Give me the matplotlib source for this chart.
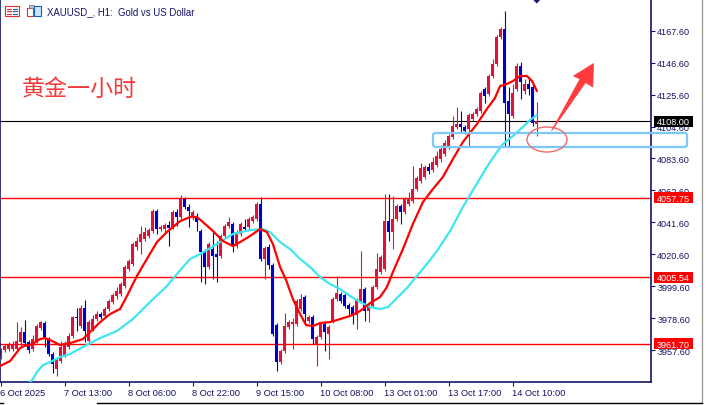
import matplotlib
matplotlib.use('Agg')
import matplotlib.pyplot as plt
from matplotlib.patches import Polygon, Ellipse, FancyBboxPatch, Rectangle
import numpy as np

# hourly XAUUSD candles, 6 Oct 2025 .. 14 Oct 2025
opens = [3953.7, 3957.6, 3958.3, 3958.3, 3958.3, 3962.9, 3969.4, 3962.9, 3958.3, 3963.5,
         3972.1, 3975.4, 3964.8, 3955.0, 3945.1, 3950.4, 3954.3, 3959.6, 3966.8, 3979.3,
         3973.4, 3985.2, 3963.5, 3971.4, 3978.0, 3981.3, 3980.0, 3984.6, 3989.2, 3993.1,
         3994.4, 3999.7, 4010.9, 4014.2, 4025.3, 4028.6, 4030.6, 4032.6, 4035.9, 4049.0,
         4037.2, 4037.2, 4039.8, 4038.5, 4048.4, 4045.1, 4056.9, 4051.7, 4045.1, 4045.7,
         4035.9, 4022.7, 4012.2, 4024.0, 4020.7, 4019.4, 4032.6, 4039.2, 4040.5, 4026.0,
         4033.9, 4038.5, 4038.5, 4042.4, 4043.8, 4053.6, 4017.5, 4025.3, 4013.5, 3974.0,
         3949.7, 3956.9, 3972.7, 3974.7, 3974.7, 3984.6, 3992.5, 3976.7, 3979.3, 3961.5,
         3966.2, 3974.7, 3968.1, 3976.7, 3991.1, 3994.4, 3993.8, 3987.2, 3985.9, 3980.6,
         3989.8, 3997.7, 3983.3, 3986.5, 3999.0, 4008.9, 4010.9, 4042.4, 4035.2, 4043.8,
         4052.3, 4048.4, 4053.6, 4055.6, 4063.5, 4068.8, 4071.4, 4078.0, 4076.0, 4079.3,
         4083.2, 4086.5, 4091.8, 4097.7, 4104.3, 4106.2, 4104.3, 4103.0, 4109.5, 4112.8,
         4114.8, 4129.3, 4126.0, 4137.8, 4145.7, 4163.5, 4168.7, 4121.4, 4111.5, 4129.3,
         4144.4, 4127.9, 4132.6, 4130.6, 4106.2]
highs = [3958.9, 3961.5, 3962.9, 3963.5, 3976.0, 3972.7, 3977.3, 3964.2, 3967.5, 3974.7,
         3976.7, 3976.7, 3966.2, 3956.3, 3953.0, 3963.5, 3963.5, 3968.8, 3980.0, 3985.2,
         3987.2, 3990.5, 3977.3, 3980.6, 3983.3, 3982.6, 3985.9, 3991.1, 3995.1, 3999.0,
         4002.3, 4013.5, 4017.5, 4028.6, 4031.9, 4039.2, 4038.5, 4037.8, 4050.3, 4050.3,
         4039.8, 4041.1, 4042.4, 4049.7, 4050.3, 4059.5, 4058.2, 4053.6, 4049.7, 4047.7,
         4037.2, 4024.0, 4028.6, 4035.2, 4029.3, 4033.9, 4040.5, 4045.1, 4041.8, 4036.5,
         4041.8, 4043.8, 4045.1, 4046.4, 4054.9, 4058.2, 4026.0, 4027.3, 4014.8, 3975.4,
         3958.3, 3981.9, 3977.3, 3978.6, 3991.1, 3994.4, 3993.8, 3980.6, 3980.6, 3967.5,
         3976.0, 3976.7, 3974.0, 3992.5, 4006.3, 3995.7, 3995.1, 3988.5, 3987.2, 3991.8,
         4022.7, 3999.0, 3989.2, 4000.4, 4021.4, 4020.1, 4060.2, 4060.2, 4058.9, 4053.6,
         4053.6, 4058.2, 4061.5, 4078.6, 4072.0, 4080.6, 4079.3, 4080.6, 4084.5, 4088.5,
         4092.4, 4095.7, 4099.7, 4111.5, 4117.4, 4114.8, 4105.6, 4113.5, 4114.1, 4117.4,
         4127.9, 4130.6, 4139.1, 4149.0, 4164.8, 4170.0, 4180.6, 4130.6, 4132.6, 4146.4,
         4147.0, 4135.8, 4135.8, 4132.6, 4120.7]
lows = [3951.7, 3956.3, 3956.9, 3956.9, 3956.9, 3960.2, 3960.2, 3955.6, 3956.9, 3962.2,
        3970.8, 3959.6, 3953.7, 3942.5, 3940.5, 3949.1, 3953.0, 3958.3, 3965.5, 3970.1,
        3972.1, 3962.9, 3961.5, 3970.1, 3976.7, 3978.0, 3978.6, 3983.3, 3987.9, 3991.1,
        3993.1, 3998.4, 4009.6, 4012.8, 4023.4, 4020.7, 4029.3, 4031.3, 4034.6, 4033.9,
        4035.9, 4035.2, 4026.0, 4037.2, 4039.2, 4043.8, 4050.3, 4038.5, 4043.1, 4035.9,
        4002.3, 4001.0, 4010.9, 4004.3, 4002.3, 4018.1, 4031.3, 4037.8, 4022.1, 4024.7,
        4032.6, 4035.9, 4037.2, 4041.1, 4042.4, 4016.1, 4004.3, 4010.9, 3966.8, 3943.8,
        3948.4, 3955.6, 3971.4, 3958.3, 3973.4, 3983.3, 3976.0, 3975.4, 3961.5, 3947.1,
        3964.8, 3956.9, 3951.7, 3975.4, 3989.8, 3988.5, 3985.2, 3980.0, 3974.7, 3971.4,
        3988.5, 3976.7, 3976.0, 3985.2, 3997.7, 4007.6, 4009.6, 4029.3, 4024.0, 4042.4,
        4040.5, 4047.0, 4052.3, 4054.3, 4062.2, 4067.4, 4070.1, 4073.4, 4074.7, 4078.0,
        4081.2, 4085.2, 4089.8, 4096.4, 4103.0, 4101.0, 4099.7, 4091.1, 4108.2, 4111.5,
        4113.5, 4120.1, 4124.7, 4136.5, 4144.4, 4162.1, 4091.1, 4091.1, 4110.2, 4127.9,
        4122.7, 4126.0, 4125.3, 4104.9, 4098.4]
closes = [3957.6, 3960.2, 3960.9, 3961.5, 3963.5, 3969.4, 3962.2, 3957.6, 3964.8, 3973.4,
          3976.0, 3966.2, 3955.0, 3948.4, 3951.7, 3959.6, 3962.2, 3966.8, 3979.3, 3978.6,
          3985.2, 3970.1, 3976.0, 3978.0, 3981.3, 3979.3, 3984.6, 3989.8, 3993.8, 3996.4,
          4001.0, 4012.2, 4016.1, 4027.3, 4029.3, 4033.9, 4035.2, 4036.5, 4049.0, 4037.2,
          4038.5, 4039.8, 4037.8, 4048.4, 4045.1, 4056.9, 4051.7, 4049.0, 4048.4, 4041.8,
          4022.1, 4012.2, 4027.3, 4019.4, 4018.8, 4032.6, 4039.2, 4041.8, 4026.0, 4035.2,
          4040.5, 4037.2, 4043.8, 4045.1, 4053.6, 4017.5, 4024.7, 4013.5, 3968.1, 3949.7,
          3956.9, 3973.4, 3976.0, 3976.0, 3989.8, 3991.1, 3981.3, 3979.3, 3964.8, 3966.2,
          3974.7, 3969.4, 3972.7, 3991.1, 3995.1, 3989.8, 3986.5, 3984.6, 3980.6, 3990.5,
          3997.7, 3983.3, 3987.9, 3999.0, 4010.9, 4018.8, 4042.4, 4035.2, 4043.8, 4052.3,
          4048.4, 4056.9, 4057.6, 4063.5, 4070.7, 4077.3, 4078.0, 4075.3, 4081.2, 4085.2,
          4089.8, 4093.7, 4098.4, 4104.9, 4106.2, 4104.3, 4101.6, 4112.2, 4112.8, 4116.1,
          4126.6, 4124.7, 4137.8, 4145.7, 4163.5, 4168.7, 4120.1, 4112.8, 4126.6, 4144.4,
          4133.9, 4132.6, 4129.3, 4106.9, 4108.0]

# moving averages (bar index, price)
fast_ma_x = [-0.1, 2.4, 4.9, 5.9, 7.9, 9.9, 11.1, 12.4, 14.9, 17.4, 20.6, 22.4, 24.9, 27.4, 29.9,
             31.6, 34.1, 36.6, 39.1, 41.6, 44.9, 47.4, 49.1, 50.6, 53.1, 55.6, 58.1, 59.9, 62.4,
             64.9, 66.6, 68.1, 69.9, 71.4, 73.1, 74.9, 76.4, 78.1, 79.9, 82.4, 84.9, 87.4, 89.9,
             92.4, 94.9, 96.6, 98.1, 100.6, 103.1, 105.6, 108.1, 110.6, 113.1, 115.6, 119.1,
             121.6, 123.6, 124.9, 126.6, 128.1, 129.9, 131.6, 132.9, 134.1]
fast_ma = [3947.1, 3950.4, 3958.9, 3960.2, 3961.5, 3964.8, 3965.5, 3964.2, 3960.9, 3962.2,
           3964.8, 3969.4, 3976.0, 3981.3, 3984.6, 3993.1, 4006.3, 4017.5, 4028.6, 4035.2,
           4042.4, 4045.1, 4045.1, 4041.8, 4035.9, 4029.3, 4026.0, 4028.6, 4032.6, 4037.2,
           4035.2, 4027.3, 4012.2, 4003.6, 3991.1, 3981.3, 3974.0, 3973.4, 3975.4, 3976.0,
           3978.0, 3980.0, 3983.3, 3988.5, 3992.5, 3999.0, 4008.9, 4024.0, 4040.5, 4054.9,
           4063.5, 4071.4, 4083.2, 4094.4, 4106.2, 4116.1, 4123.3, 4131.2, 4132.6, 4134.5,
           4137.8, 4137.8, 4134.5, 4127.9]
slow_ma_x = [6.4, 7.4, 8.1, 9.1, 10.6, 12.4, 14.9, 17.4, 20.6, 24.9, 29.1, 33.1, 37.4, 41.6, 44.1,
             47.4, 49.9, 54.1, 58.1, 62.4, 65.6, 67.4, 69.9, 72.4, 74.9, 77.4, 79.9, 82.4, 84.9,
             87.4, 89.9, 92.4, 94.9, 96.9, 99.1, 101.6, 104.1, 106.6, 109.1, 112.4, 115.6, 118.6,
             121.6, 124.1, 125.6, 128.1, 130.6, 132.4, 134.1]
slow_ma = [3932.6, 3936.6, 3938.5, 3943.1, 3947.7, 3949.7, 3953.0, 3955.0, 3959.6, 3965.5,
           3970.1, 3978.0, 3989.2, 3999.7, 4007.6, 4017.5, 4020.7, 4027.3, 4033.9, 4036.5,
           4037.2, 4035.2, 4028.6, 4024.0, 4017.5, 4012.2, 4005.6, 4001.0, 3997.7, 3993.1,
           3989.2, 3985.9, 3984.6, 3985.9, 3991.8, 3998.4, 4006.3, 4014.2, 4022.7, 4035.9,
           4051.7, 4064.8, 4078.0, 4087.8, 4093.1, 4098.4, 4104.3, 4108.9, 4112.2]

bid_level = 4108.00
red_levels = [4057.75, 4005.54, 3961.70]

yticks = [3957.60, 3978.60, 3999.60, 4020.60, 4041.60, 4062.60, 4083.60, 4104.60, 4125.60,
          4146.60, 4167.60]
xtick_bars = [0, 16, 32, 48, 64, 80, 96, 112, 128]
xtick_labels = ['6 Oct 2025', '7 Oct 13:00', '8 Oct 06:00', '8 Oct 22:00', '9 Oct 15:00',
                '10 Oct 08:00', '13 Oct 01:00', '13 Oct 17:00', '14 Oct 10:00']

NAVY = '#14146a'
UP = '#dc143c'
DOWN = '#0000cd'
FONT = 'Liberation Sans'

W, H = 706, 406
fig = plt.figure(figsize=(W / 100, H / 100), dpi=100)
fig.patch.set_facecolor('white')
ax = fig.add_axes([0, 23 / H, 651 / W, 383 / H])

o = np.array(opens)
h = np.array(highs)
l = np.array(lows)
c = np.array(closes)
idx = np.arange(len(c))
cols = np.where(c >= o, UP, DOWN)

for lv in red_levels:
    ax.axhline(lv, color='#ff0000', lw=1.0, zorder=1)
ax.axhline(bid_level, color='black', lw=0.8, zorder=1)

ax.vlines(idx, l, h, colors=cols, lw=0.8, zorder=2)
ax.bar(idx, np.maximum(np.abs(c - o), 0.7), width=0.72, bottom=np.minimum(o, c),
       color=cols, lw=0, zorder=2.1)

ax.plot(slow_ma_x, slow_ma, color='#3fe6f0', lw=1.6, zorder=3, solid_capstyle='round')
ax.plot(fast_ma_x, fast_ma, color='#ff0000', lw=1.6, zorder=3.1, solid_capstyle='round')

ax.set_xlim(-0.125, 162.625)
ax.set_ylim(3936.6, 4188.45)

ax.yaxis.tick_right()
ax.set_yticks(yticks)
ax.set_yticklabels(['%.2f' % v for v in yticks], fontfamily=FONT)
ax.set_xticks(xtick_bars)
ax.set_xticklabels(xtick_labels, fontfamily=FONT)
for lbl in ax.get_xticklabels():
    lbl.set_ha('left')
ax.tick_params(axis='y', direction='out', length=3, width=0.8, colors=NAVY,
               labelsize=6.6, pad=1.5)
ax.tick_params(axis='x', direction='out', length=3, width=0.8, colors=NAVY,
               labelsize=6.7, pad=1.5)
for s in ax.spines.values():
    s.set_color(NAVY)
    s.set_linewidth(1.2)

# overlay in pixel coordinates for the drawn objects
ov = fig.add_axes([0, 0, 1, 1], zorder=5)
ov.set_xlim(0, W)
ov.set_ylim(H, 0)
ov.axis('off')
ov.patch.set_alpha(0)


def px_y(price):
    return H - ax.transData.transform((0, price))[1]


# price labels on the scale
for lv, fc in [(bid_level, 'black')] + [(v, '#ff0000') for v in red_levels]:
    yc = px_y(lv)
    ov.add_patch(Rectangle((654, yc - 5.5), 39, 11, fc=fc, ec='none'))
    ov.text(656.5, yc + 0.3, '%.2f' % lv, color='white', fontsize=6.6, fontfamily=FONT,
            va='center', ha='left')

# support zone box
ov.add_patch(FancyBboxPatch((433, 134), 254, 14, boxstyle='round,pad=0,rounding_size=2.5',
                            ec='#7cc8f8', fc='none', lw=1.6))
ov.add_patch(Ellipse((547, 140.5), 40, 25, ec='#f06a6a', fc='none', lw=1.0))
ov.add_patch(Polygon([(593.5, 64.5), (573.5, 77), (580, 80), (551.5, 132), (585.5, 83.5),
                      (592.8, 88)], closed=True, fc='#ff3b3b', ec='#ff3b3b', lw=0.5))

# shift marker on top border
ov.add_patch(Polygon([(532.5, 0), (541, 0), (536.7, 4.5)], closed=True, fc=NAVY, ec='none'))

# window decorations
ov.plot([702, 702], [0, 403], color='#a0a0a0', lw=1)
ov.plot([97, 702], [404, 404], color='black', lw=1)
ov.plot([0, 3], [404, 404], color='black', lw=1)

# header icons and title
ov.add_patch(Rectangle((5, 7), 14, 10, fc='white', ec='#e03030', lw=0.8))
for yy in [9.5, 12, 14.5]:
    ov.plot([7, 11], [yy, yy], color='#e03030', lw=0.8)
    ov.plot([13, 17], [yy, yy], color='#1060c0', lw=0.8)
ov.add_patch(Rectangle((27, 9), 6, 8, fc='white', ec='#e03030', lw=0.8))
ov.add_patch(Rectangle((29, 6), 5, 3, fc='#c0c0c0', ec='#808080', lw=0.6))
ov.add_patch(Rectangle((34, 7), 7, 10, fc='#cfe4f8', ec='#1060c0', lw=0.8))
ov.text(47, 12, 'XAUUSD_, H1:  Gold vs US Dollar', color=NAVY, fontsize=6.9,
        fontfamily=FONT, va='center', ha='left')

ov.text(22, 89, '黄金一小时', color='#f23c3c', fontsize=16.6,
        fontfamily=['Noto Sans CJK SC', 'DejaVu Sans'], va='center', ha='left')

fig.savefig('out.png', dpi=100)
